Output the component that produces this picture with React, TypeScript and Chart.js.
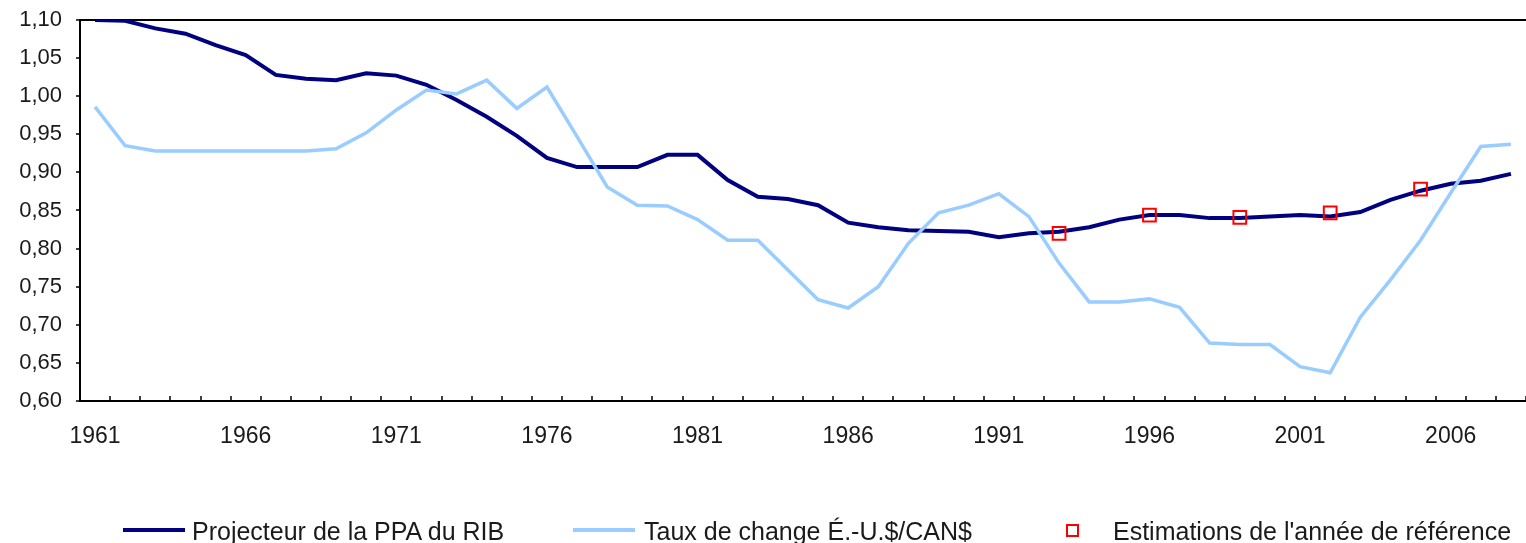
import React, { useEffect, useRef } from "react";
import { Chart, registerables } from "chart.js";

Chart.register(...registerables);

const FONT = '"Liberation Sans", Arial, Helvetica, sans-serif';

const years = [
  "1961", "1962", "1963", "1964", "1965", "1966", "1967", "1968", "1969", "1970",
  "1971", "1972", "1973", "1974", "1975", "1976", "1977", "1978", "1979", "1980",
  "1981", "1982", "1983", "1984", "1985", "1986", "1987", "1988", "1989", "1990",
  "1991", "1992", "1993", "1994", "1995", "1996", "1997", "1998", "1999", "2000",
  "2001", "2002", "2003", "2004", "2005", "2006", "2007", "2008",
];

const xTickLabels = ["1961", "1966", "1971", "1976", "1981", "1986", "1991", "1996", "2001", "2006"];

const ppaProjector = [
  1.100, 1.099, 1.089, 1.082, 1.067, 1.054, 1.028, 1.023, 1.021, 1.030,
  1.027, 1.015, 0.995, 0.973, 0.948, 0.919, 0.907, 0.907, 0.907, 0.923,
  0.923, 0.890, 0.868, 0.865, 0.857, 0.834, 0.828, 0.824, 0.823, 0.822,
  0.815, 0.820, 0.822, 0.828, 0.838, 0.844, 0.844, 0.840, 0.840, 0.842,
  0.844, 0.842, 0.848, 0.864, 0.876, 0.885, 0.889, 0.898,
];

const exchangeRate = [
  0.986, 0.935, 0.928, 0.928, 0.928, 0.928, 0.928, 0.928, 0.931, 0.952,
  0.982, 1.008, 1.003, 1.021, 0.984, 1.012, 0.947, 0.881, 0.857, 0.856,
  0.838, 0.811, 0.811, 0.772, 0.733, 0.722, 0.750, 0.807, 0.847, 0.857,
  0.872, 0.842, 0.781, 0.730, 0.730, 0.734, 0.723, 0.676, 0.674, 0.674,
  0.645, 0.637, 0.710, 0.759, 0.811, 0.873, 0.934, 0.937,
];

const benchmarkYears = ["1993", "1996", "1999", "2002", "2005"];
const benchmarkValues = [0.820, 0.844, 0.841, 0.847, 0.878];

const legendLabels = [
  "Projecteur de la PPA du RIB",
  "Taux de change É.-U.$/CAN$",
  "Estimations de l'année de référence",
];

const NAVY = "#000080";
const LIGHT = "#99ccff";
const RED = "#ff0000";

export default function App() {
  const ref = useRef<HTMLCanvasElement | null>(null);

  useEffect(() => {
    const canvas = ref.current;
    if (!canvas) return;

    const benchmarkData = years.map((y) => {
      const i = benchmarkYears.indexOf(y);
      return i >= 0 ? benchmarkValues[i] : null;
    });

    const insideTicks = {
      id: "insideTicks",
      afterDatasetsDraw(chart: any) {
        const xs = chart.scales.x;
        const ctx = chart.ctx;
        const bottom = chart.chartArea.bottom;
        ctx.save();
        ctx.strokeStyle = "#000";
        ctx.lineWidth = 1.5;
        ctx.beginPath();
        for (let i = 1; i <= years.length; i++) {
          const px = Math.round(xs.getPixelForValue(i - 0.5));
          ctx.moveTo(px, bottom);
          ctx.lineTo(px, bottom - 5);
        }
        ctx.stroke();
        ctx.restore();
      },
    };

    const noScalePadding = (scale: any) => {
      scale.paddingTop = 0;
      scale.paddingBottom = 0;
      scale.paddingLeft = 0;
      scale.paddingRight = 0;
    };

    const chart = new Chart(canvas, {
      type: "line",
      data: {
        labels: years,
        datasets: [
          {
            label: legendLabels[0],
            data: ppaProjector,
            borderColor: NAVY,
            backgroundColor: NAVY,
            borderWidth: 4,
            pointRadius: 0,
            tension: 0,
            order: 2,
          },
          {
            label: legendLabels[1],
            data: exchangeRate,
            borderColor: LIGHT,
            backgroundColor: LIGHT,
            borderWidth: 3.5,
            pointRadius: 0,
            tension: 0,
            order: 1,
          },
          {
            label: legendLabels[2],
            data: benchmarkData,
            showLine: false,
            borderColor: RED,
            backgroundColor: "rgba(255,255,255,0)",
            pointStyle: "rect",
            pointRadius: 9,
            pointBorderWidth: 2,
            pointBorderColor: RED,
            pointBackgroundColor: "rgba(255,255,255,0)",
            order: 0,
          },
        ],
      },
      options: {
        responsive: false,
        animation: false,
        devicePixelRatio: 1,
        layout: { autoPadding: false, padding: { top: 20, left: 0, right: 0, bottom: 0 } },
        plugins: {
          legend: { display: false },
          tooltip: { enabled: false },
        },
        scales: {
          x: {
            type: "category",
            offset: true,
            grid: { display: false },
            border: { display: true, color: "#000", width: 2 },
            ticks: {
              autoSkip: false,
              maxRotation: 0,
              minRotation: 0,
              padding: 14,
              color: "#1a1a1a",
              font: { family: FONT, size: 23 },
              callback: (_v: any, idx: number) =>
                xTickLabels.includes(years[idx]) ? years[idx] : null,
            },
            afterFit: (scale: any) => {
              scale.height = 142;
              noScalePadding(scale);
            },
          },
          y: {
            min: 0.6,
            max: 1.1,
            border: { display: true, color: "#000", width: 2 },
            grid: {
              drawOnChartArea: true,
              drawTicks: true,
              tickLength: 4,
              tickColor: "#000",
              tickWidth: 1.5,
              color: (c: any) =>
                c.tick && Math.abs(c.tick.value - 1.1) < 1e-6 ? "#000" : "rgba(0,0,0,0)",
              lineWidth: (c: any) =>
                c.tick && Math.abs(c.tick.value - 1.1) < 1e-6 ? 2 : 0,
            },
            ticks: {
              stepSize: 0.05,
              padding: 14,
              color: "#1a1a1a",
              font: { family: FONT, size: 22 },
              callback: (v: any) => Number(v).toFixed(2).replace(".", ","),
            },
            afterFit: (scale: any) => {
              scale.width = 80;
              noScalePadding(scale);
            },
          },
        },
      },
      plugins: [insideTicks],
    });

    return () => chart.destroy();
  }, []);

  const textStyle: React.CSSProperties = {
    position: "absolute",
    top: 519,
    fontFamily: FONT,
    fontSize: 25,
    lineHeight: "24px",
    color: "#1a1a1a",
    whiteSpace: "nowrap",
  };

  return (
    <div
      style={{
        position: "absolute",
        left: 0,
        top: 0,
        width: 1526,
        height: 543,
        background: "#fff",
        overflow: "hidden",
      }}
    >
      <canvas ref={ref} width={1526} height={543} style={{ display: "block" }} />
      <div style={{ position: "absolute", left: 123, top: 528, width: 62, height: 4, background: NAVY }} />
      <div style={{ ...textStyle, left: 192 }}>{legendLabels[0]}</div>
      <div style={{ position: "absolute", left: 573, top: 528, width: 62, height: 4, background: LIGHT }} />
      <div style={{ ...textStyle, left: 644 }}>{legendLabels[1]}</div>
      <div
        style={{
          position: "absolute",
          left: 1066,
          top: 524,
          width: 9,
          height: 9,
          border: `2px solid ${RED}`,
        }}
      />
      <div style={{ ...textStyle, left: 1113 }}>{legendLabels[2]}</div>
    </div>
  );
}
